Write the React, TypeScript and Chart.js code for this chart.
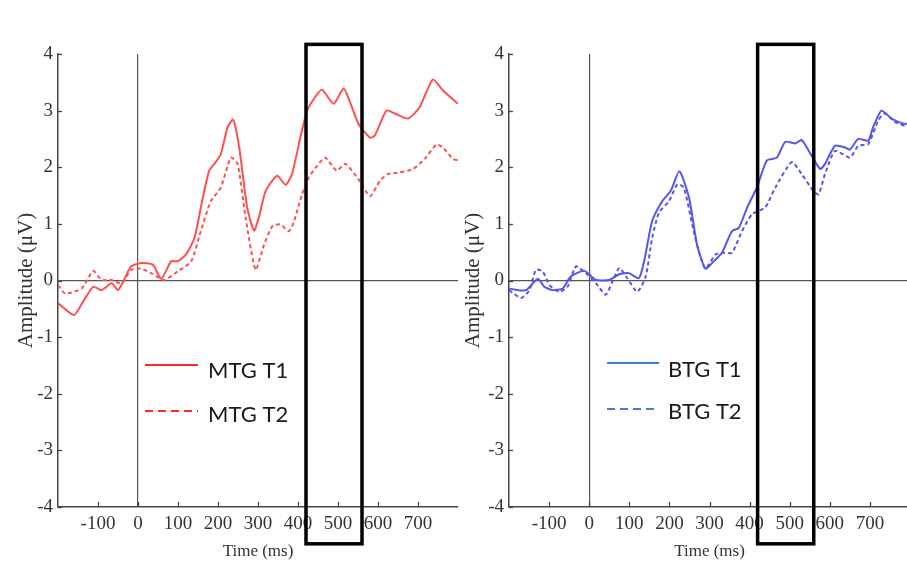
import React, { useEffect, useRef } from "react";
import { Chart, registerables } from "chart.js";

Chart.register(...registerables);

// ---------- data ----------
const xTickValues = [-100, 0, 100, 200, 300, 400, 500, 600, 700];

const mtgT1Times = [-200, -160, -137, -112, -91, -66, -50, -33, -17, 8, 37, 58, 83, 99, 120, 141, 162, 178, 191, 207, 224, 238, 253, 273, 290, 302, 319, 348, 369, 385, 406, 423, 443, 460, 489, 514, 530, 551, 580, 592, 621, 642, 675, 704, 737, 762, 800];
const mtgT1Values = [-0.40, -0.61, -0.37, -0.11, -0.17, -0.05, -0.17, 0.04, 0.25, 0.31, 0.28, 0.03, 0.34, 0.34, 0.46, 0.75, 1.46, 1.94, 2.06, 2.23, 2.71, 2.84, 2.35, 1.29, 0.88, 1.11, 1.58, 1.85, 1.69, 1.88, 2.53, 3.00, 3.24, 3.37, 3.12, 3.39, 3.15, 2.77, 2.52, 2.56, 3.00, 2.95, 2.86, 3.06, 3.55, 3.36, 3.12];

const mtgT2Times = [-200, -182, -141, -112, -91, -66, -41, -17, 8, 33, 66, 99, 133, 157, 182, 207, 232, 249, 269, 294, 315, 336, 356, 377, 389, 410, 427, 448, 468, 497, 518, 551, 580, 605, 625, 654, 688, 717, 746, 762, 787, 800];
const mtgT2Values = [-0.08, -0.23, -0.14, 0.17, 0.01, 0.01, -0.05, 0.19, 0.21, 0.13, 0.01, 0.16, 0.34, 0.87, 1.40, 1.64, 2.17, 2.06, 1.11, 0.19, 0.63, 0.96, 0.99, 0.87, 1.02, 1.52, 1.82, 2.03, 2.17, 1.94, 2.06, 1.79, 1.49, 1.76, 1.88, 1.91, 1.97, 2.15, 2.40, 2.35, 2.15, 2.12];

const btgT1Times = [-200, -178, -157, -128, -112, -91, -66, -46, -12, 17, 50, 75, 99, 124, 137, 157, 182, 203, 225, 249, 269, 290, 311, 331, 356, 373, 394, 418, 443, 468, 489, 514, 530, 555, 576, 588, 613, 638, 650, 671, 696, 708, 729, 754, 779, 800];
const btgT1Values = [-0.14, -0.17, -0.17, 0.03, -0.11, -0.17, -0.14, 0.07, 0.17, 0.01, 0.01, 0.11, 0.13, 0.04, 0.34, 1.05, 1.40, 1.58, 1.93, 1.46, 0.63, 0.21, 0.34, 0.49, 0.87, 0.93, 1.29, 1.64, 2.12, 2.17, 2.45, 2.42, 2.48, 2.20, 1.97, 2.06, 2.38, 2.35, 2.31, 2.50, 2.47, 2.71, 3.00, 2.86, 2.78, 2.76];

const btgT2Times = [-200, -170, -149, -133, -116, -99, -75, -54, -33, -8, 17, 41, 58, 75, 95, 120, 141, 157, 174, 199, 220, 236, 257, 273, 290, 315, 336, 356, 381, 406, 439, 464, 505, 530, 559, 572, 588, 613, 650, 671, 696, 721, 737, 762, 800];
const btgT2Values = [-0.17, -0.31, -0.17, 0.19, 0.16, -0.08, -0.20, -0.11, 0.25, 0.13, -0.05, -0.25, -0.02, 0.22, 0.04, -0.20, 0.07, 0.75, 1.20, 1.40, 1.70, 1.64, 0.99, 0.52, 0.21, 0.46, 0.49, 0.49, 0.87, 1.17, 1.29, 1.64, 2.09, 1.88, 1.58, 1.52, 1.88, 2.29, 2.17, 2.38, 2.41, 2.83, 2.95, 2.80, 2.70];

// analysis window box (ms / µV)
const windowStartMs = 420;
const windowEndMs = 560;
const windowTopUv = 4.17;
const windowBottomUv = -4.65;

const toPoints = (t: number[], v: number[]) => t.map((x, i) => ({ x, y: v[i] }));

type LegendCfg = {
  lineX0: number; lineX1: number; textX: number;
  lineY: number[]; textY: number[]; color: string;
};

type PanelCfg = {
  left: number;
  width: number;
  yAxisWidth: number;
  padRight: number;
  yTitlePad: number;
  series: { label: string; times: number[]; values: number[]; color: string; dashed: boolean }[];
  legend: LegendCfg;
};

const SERIF = "'Liberation Serif', 'Times New Roman', serif";

const decorPlugin = {
  id: "erpDecor",
  afterDraw(chart: any) {
    const { ctx, chartArea, scales } = chart;
    const xs = scales.x, ys = scales.y;
    const lg: LegendCfg = chart.options.plugins.erpDecor;
    ctx.save();
    // inward tick marks
    ctx.strokeStyle = "#444";
    ctx.lineWidth = 1.3;
    ys.ticks.forEach((t: any) => {
      const py = Math.round(ys.getPixelForValue(t.value)) + 0.5;
      ctx.beginPath(); ctx.moveTo(chartArea.left, py); ctx.lineTo(chartArea.left + 4, py); ctx.stroke();
    });
    xs.ticks.forEach((t: any) => {
      const px = Math.round(xs.getPixelForValue(t.value)) + 0.5;
      ctx.beginPath(); ctx.moveTo(px, chartArea.bottom); ctx.lineTo(px, chartArea.bottom - 5); ctx.stroke();
    });
    // analysis window box
    const bx0 = xs.getPixelForValue(windowStartMs);
    const bx1 = xs.getPixelForValue(windowEndMs);
    const by0 = ys.getPixelForValue(windowTopUv);
    const by1 = ys.getPixelForValue(windowBottomUv);
    ctx.strokeStyle = "#000";
    ctx.lineWidth = 3.5;
    ctx.lineJoin = "miter";
    ctx.strokeRect(bx0, by0, bx1 - bx0, by1 - by0);
    // legend
    chart.data.datasets.forEach((ds: any, i: number) => {
      const ly = lg.lineY[i];
      ctx.strokeStyle = lg.color;
      ctx.lineWidth = 2;
      ctx.setLineDash(i === 0 ? [] : [8, 5]);
      ctx.beginPath();
      ctx.moveTo(chartArea.left + lg.lineX0, ly);
      ctx.lineTo(chartArea.left + lg.lineX1, ly);
      ctx.stroke();
      ctx.setLineDash([]);
      ctx.fillStyle = "#1a1a1a";
      ctx.font = "22px Lato, 'Open Sans', sans-serif";
      ctx.textBaseline = "alphabetic";
      ctx.textAlign = "left";
      ctx.fillText(ds.label, chartArea.left + lg.textX, lg.textY[i]);
    });
    ctx.restore();
  },
};

function ErpPanel({ cfg }: { cfg: PanelCfg }) {
  const ref = useRef<HTMLCanvasElement>(null);
  useEffect(() => {
    const zeroGrid = (c: any) => (c.tick && c.tick.value === 0 ? "#555" : "rgba(0,0,0,0)");
    const chart = new Chart(ref.current as HTMLCanvasElement, {
      type: "line",
      data: {
        datasets: cfg.series.map((s) => ({
          label: s.label,
          data: toPoints(s.times, s.values),
          borderColor: s.color,
          backgroundColor: s.color,
          borderWidth: 2,
          borderDash: s.dashed ? [4, 3] : [],
          pointRadius: 0,
          tension: 0.2,
          fill: false,
        })),
      },
      options: {
        animation: false,
        responsive: false,
        devicePixelRatio: 1,
        layout: { padding: { top: 54, right: cfg.padRight, left: 0, bottom: 0 } },
        plugins: {
          legend: { display: false },
          tooltip: { enabled: false },
          erpDecor: cfg.legend,
        } as any,
        scales: {
          x: {
            type: "linear",
            min: -200,
            max: 800,
            afterBuildTicks: (s: any) => {
              s.ticks = xTickValues.map((v) => ({ value: v }));
            },
            afterFit: (s: any) => {
              s.height = 76;
            },
            grid: { drawTicks: false, color: zeroGrid, lineWidth: 1.2 },
            border: { display: true, color: "#444", width: 1.5 },
            ticks: {
              padding: 6,
              color: "#333",
              autoSkip: false,
              maxRotation: 0,
              font: { family: SERIF, size: 19 },
              callback: (v: any) => String(v),
            },
            title: {
              display: true,
              text: "Time (ms)",
              color: "#333",
              font: { family: SERIF, size: 17 },
              padding: { top: 0, bottom: 21 },
            },
          },
          y: {
            type: "linear",
            min: -4,
            max: 4,
            afterFit: (s: any) => {
              s.width = cfg.yAxisWidth;
            },
            grid: { drawTicks: false, color: zeroGrid, lineWidth: 1.2 },
            border: { display: true, color: "#444", width: 1.5 },
            ticks: {
              stepSize: 1,
              padding: 5,
              color: "#333",
              font: { family: SERIF, size: 19 },
              callback: (v: any) => String(v),
            },
            title: {
              display: true,
              text: "Amplitude (μV)",
              color: "#333",
              font: { family: SERIF, size: 21 },
              padding: { top: cfg.yTitlePad, bottom: 0 },
            },
          },
        },
      } as any,
      plugins: [decorPlugin],
    });
    return () => chart.destroy();
  }, [cfg]);
  return (
    <canvas
      ref={ref}
      width={cfg.width}
      height={583}
      style={{ position: "absolute", left: cfg.left, top: 0, width: cfg.width, height: 583 }}
    />
  );
}

const leftCfg: PanelCfg = {
  left: 0,
  width: 460,
  yAxisWidth: 58,
  padRight: 2,
  yTitlePad: 14,
  series: [
    { label: "MTG T1", times: mtgT1Times, values: mtgT1Values, color: "#ff4f4f", dashed: false },
    { label: "MTG T2", times: mtgT2Times, values: mtgT2Values, color: "#ff4f4f", dashed: true },
  ],
  legend: { lineX0: 87, lineX1: 140, textX: 150, lineY: [365, 411], textY: [378, 422], color: "#ff2626" },
};

const rightCfg: PanelCfg = {
  left: 455,
  width: 460,
  yAxisWidth: 54,
  padRight: 5,
  yTitlePad: 6,
  series: [
    { label: "BTG T1", times: btgT1Times, values: btgT1Values, color: "#5555ee", dashed: false },
    { label: "BTG T2", times: btgT2Times, values: btgT2Values, color: "#5555ee", dashed: true },
  ],
  legend: { lineX0: 98, lineX1: 150, textX: 159, lineY: [363, 409], textY: [377, 419], color: "#3b7fd6" },
};

export default function App() {
  return (
    <div
      style={{
        position: "absolute",
        left: 0,
        top: 0,
        width: 907,
        height: 583,
        overflow: "hidden",
        background: "#fff",
      }}
    >
      <ErpPanel cfg={leftCfg} />
      <ErpPanel cfg={rightCfg} />
    </div>
  );
}
